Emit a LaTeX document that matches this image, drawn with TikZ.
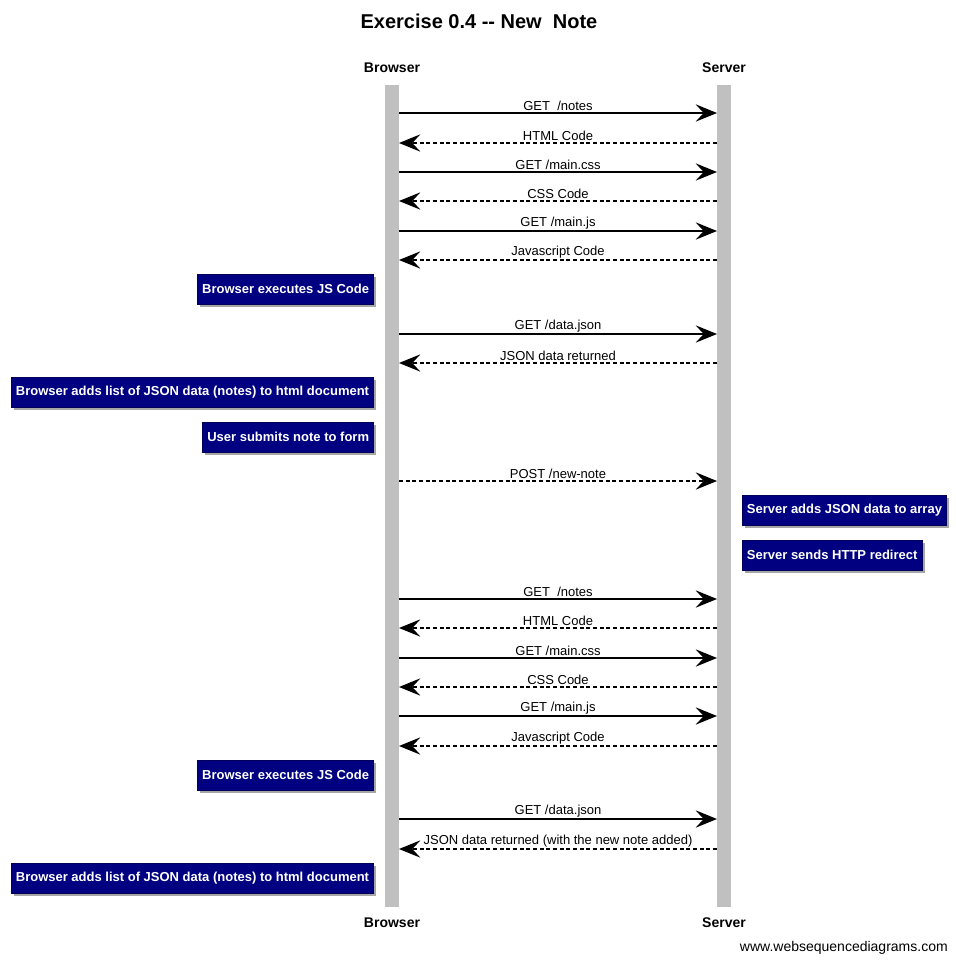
\documentclass[tikz,border=0pt]{standalone}
\usepackage{fontspec}
\setmainfont{Liberation Sans}
\usepackage{tikz}
\usetikzlibrary{arrows.meta, positioning, shadows}
\definecolor{notenavy}{RGB}{0,0,128}
\definecolor{lifegray}{RGB}{192,192,192}

\begin{document}
\begin{tikzpicture}[x=0.75pt, y=-0.75pt,
    actor/.style={font=\fontsize{10.5}{12}\selectfont\bfseries},
    msglabel/.style={font=\fontsize{9.75}{11}\selectfont, inner sep=1pt},
    req/.style={line width=1.2pt, -{Stealth[length=16pt, width=13pt, inset=6pt]}},
    resp/.style={req, dash pattern=on 3pt off 2pt},
    note/.style={fill=notenavy, draw=notenavy!70!black, text=white,
        font=\fontsize{9.75}{11}\selectfont\bfseries, inner xsep=3.5pt,
        minimum height=22.5pt,
        drop shadow={shadow xshift=2pt, shadow yshift=-2pt, fill=gray!70, opacity=1}}]
    \useasboundingbox (0,0) rectangle (956,964);
    % Titel
    \node[font=\fontsize{15}{18}\selectfont\bfseries] (title) at (479,21) {Exercise 0.4 -{}- New\ \ Note};
    % Lebenslinien
    \fill[lifegray] (385,85) rectangle (399,907);
    \fill[lifegray] (717,85) rectangle (731,907);
    \node[actor] (brtop) at (392,68) {Browser};
    \node[actor] (svtop) at (724,68) {Server};
    \node[actor] (brbot) at (392,923) {Browser};
    \node[actor] (svbot) at (724,923) {Server};
    % Nachrichten
    \foreach \y/\from/\to/\kind/\lab [count=\k] in {
        113/b/s/req/{GET\ \ /notes}, 143/s/b/resp/{HTML Code},
        172/b/s/req/{GET /main.css}, 201/s/b/resp/{CSS Code},
        231/b/s/req/{GET /main.js}, 260/s/b/resp/{Javascript Code},
        334/b/s/req/{GET /data.json}, 363/s/b/resp/{JSON data returned},
        481/b/s/resp/{POST /new-note},
        599/b/s/req/{GET\ \ /notes}, 628/s/b/resp/{HTML Code},
        658/b/s/req/{GET /main.css}, 687/s/b/resp/{CSS Code},
        716/b/s/req/{GET /main.js}, 746/s/b/resp/{Javascript Code},
        819/b/s/req/{GET /data.json},
        849/s/b/resp/{JSON data returned (with the new note added)}} {
        \coordinate (b\k) at (399,\y);
        \coordinate (s\k) at (717,\y);
        \draw[\kind] (\from\k) -- node[midway, above, msglabel] {\lab} (\to\k);
    }
    % Notizen
    \node[note, anchor=east] (jsrun1) at (374,289) {Browser executes JS Code};
    \node[note, anchor=east] (render1) at (374,392) {Browser adds list of JSON data (notes) to html document};
    \node[note, anchor=east] (submit) at (374,437) {User submits note to form};
    \node[note, anchor=west] (store) at (742,510) {Server adds JSON data to array};
    \node[note, anchor=west] (redirect) at (742,555) {Server sends HTTP redirect};
    \node[note, anchor=east] (jsrun2) at (374,775) {Browser executes JS Code};
    \node[note, anchor=east] (render2) at (374,878) {Browser adds list of JSON data (notes) to html document};
    \node[font=\fontsize{10.5}{12}\selectfont, anchor=east, inner sep=0pt] (credit) at (948,948) {www.websequencediagrams.com};
\end{tikzpicture}
\end{document}
